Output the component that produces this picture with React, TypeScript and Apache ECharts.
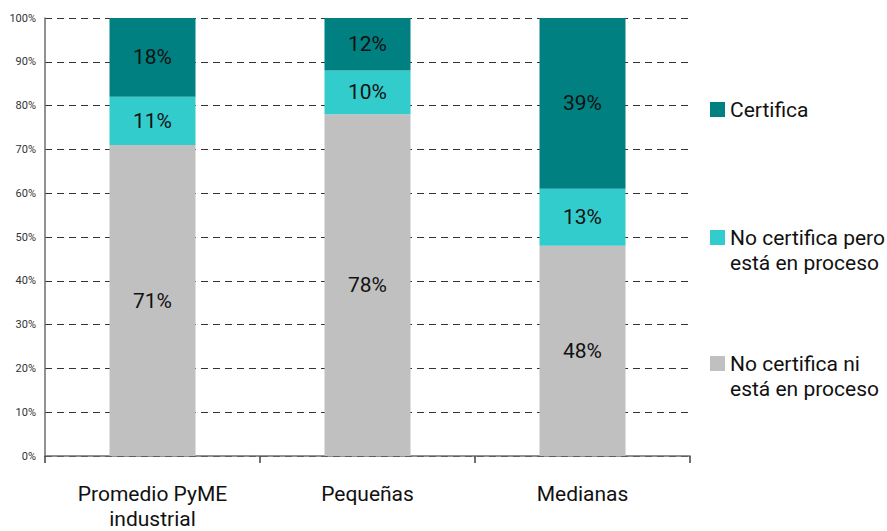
import React, { useEffect, useRef } from "react";
import * as echarts from "echarts";

const categories = ["Promedio PyME\nindustrial", "Pequeñas", "Medianas"];
const noCertificaNi = [71, 78, 48];
const noCertificaPero = [11, 10, 13];
const certifica = [18, 12, 39];
const yTicks = { min: 0, max: 100, interval: 10 };

const FONT = "Roboto, 'Noto Sans', sans-serif";

export default function App() {
  const ref = useRef<HTMLDivElement>(null);
  useEffect(() => {
    if (!ref.current) return;
    const chart = echarts.init(ref.current, undefined, { renderer: "svg" });
    const label = {
      show: true,
      position: "inside",
      formatter: "{c}%",
      color: "#111",
      fontSize: 21,
      fontFamily: FONT,
    };
    const legendBase = {
      orient: "vertical",
      left: 710,
      padding: 0,
      icon: "rect",
      itemWidth: 15,
      itemHeight: 15,
      itemGap: 6,
      selectedMode: false,
      textStyle: { fontFamily: FONT, fontSize: 21, color: "#111", lineHeight: 25 },
    };
    chart.setOption({
      animation: false,
      textStyle: { fontFamily: FONT },
      grid: { left: 45, right: 197, top: 18, bottom: 73 },
      legend: [
        { ...legendBase, top: 97, data: ["Certifica"] },
        {
          ...legendBase,
          top: 200,
          data: ["No certifica pero\nestá en proceso"],
          formatter: (n: string) => "\n" + n,
        },
        {
          ...legendBase,
          top: 326,
          data: ["No certifica ni\nestá en proceso"],
          formatter: (n: string) => "\n" + n,
        },
      ],
      xAxis: {
        type: "category",
        data: categories,
        axisLine: { lineStyle: { color: "#6e6e6e", width: 1.5 } },
        axisTick: { show: true, length: 7, lineStyle: { color: "#404040", width: 1.5 } },
        axisLabel: { fontFamily: FONT, fontSize: 21, color: "#111", lineHeight: 25, margin: 25 },
      },
      yAxis: {
        type: "value",
        min: yTicks.min,
        max: yTicks.max,
        interval: yTicks.interval,
        axisLine: { show: true, lineStyle: { color: "#6e6e6e", width: 1.5 } },
        axisTick: { show: false },
        axisLabel: { formatter: "{value}%", fontFamily: FONT, fontSize: 11, color: "#333", margin: 9 },
        splitLine: { show: true, lineStyle: { color: "#333", type: [7, 5], width: 1 } },
      },
      series: [
        {
          name: "No certifica ni\nestá en proceso",
          type: "bar",
          stack: "total",
          barWidth: "40%",
          data: noCertificaNi,
          itemStyle: { color: "#C0C0C0" },
          label,
        },
        {
          name: "No certifica pero\nestá en proceso",
          type: "bar",
          stack: "total",
          data: noCertificaPero,
          itemStyle: { color: "#33CCCC" },
          label,
        },
        {
          name: "Certifica",
          type: "bar",
          stack: "total",
          data: certifica,
          itemStyle: { color: "#008080" },
          label,
        },
      ],
    });
    return () => chart.dispose();
  }, []);
  return (
    <div
      ref={ref}
      style={{ position: "fixed", left: 0, top: 0, width: 887, height: 531, background: "#fff" }}
    />
  );
}
